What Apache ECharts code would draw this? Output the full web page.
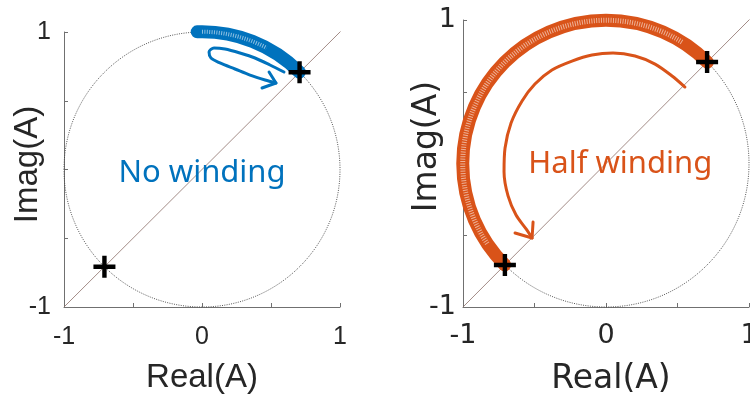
<!DOCTYPE html>
<html>
<head>
<meta charset="utf-8">
<script src="https://cdn.jsdelivr.net/npm/echarts@6/dist/echarts.min.js"></script>
<style>html,body{margin:0;padding:0;background:#fff;}#c{width:750px;height:395px;}</style>
</head>
<body>
<div id="c"></div>
<script>
// ---- data ----
const xTickLabels = [-1, 0, 1];
const yTickLabels = [-1, 1];
const diagonal = [[-1, -1], [1.02, 1.02]];
const unitCircle = [0, 0, 1];                 // centre x, centre y, radius
const crossPoints = [[0.707, 0.707], [-0.707, -0.707]];
const noWindingArc = [92, 45];                // start / end angle, degrees
const noWindingHatch = [90, 62];
const halfWindingArc = [45, 225];
const halfWindingHatch = [58, 214];
const noWindingArrow = [
  [0.594, 0.709], [0.493, 0.760], [0.384, 0.811], [0.275, 0.847], [0.167, 0.876],
  [0.087, 0.884], [0.051, 0.855], [0.065, 0.811], [0.130, 0.775], [0.239, 0.731],
  [0.348, 0.687], [0.457, 0.651], [0.536, 0.629]
];
const noWindingArrowHead = [[0.486, 0.709], [0.536, 0.629], [0.435, 0.593]];
const halfWindingArrow = [
  [0.552, 0.533], [0.462, 0.610], [0.343, 0.693], [0.203, 0.749], [0.049, 0.770],
  [-0.098, 0.756], [-0.238, 0.714], [-0.378, 0.652], [-0.497, 0.554], [-0.587, 0.436],
  [-0.664, 0.282], [-0.706, 0.108], [-0.713, -0.059], [-0.685, -0.226], [-0.629, -0.359],
  [-0.559, -0.456], [-0.517, -0.519]
];
const halfWindingArrowHead = [[-0.636, -0.484], [-0.517, -0.519], [-0.510, -0.408]];
const noWindingText = 'No winding';
const halfWindingText = 'Half winding';
const noWindingTextAt = [0, -0.03];
const halfWindingTextAt = [0.1, -0.005];

// ---- styles ----
const BLUE = '#0072BD';
const ORANGE = '#D95319';
const PLUS = 'path://M8,0h4v8h8v4h-8v8h-4v-8h-8v-4h8z';

function arcItem(color, width, dash, opacity) {
  return function (params, api) {
    const c = api.coord([api.value(0), api.value(1)]);
    const s = api.size([api.value(2), api.value(2)]);
    const r = (s[0] + s[1]) / 2;
    const a0 = -api.value(3) * Math.PI / 180;
    const a1 = -api.value(4) * Math.PI / 180;
    return {
      type: 'arc',
      shape: { cx: c[0], cy: c[1], r: r, startAngle: a0, endAngle: a1, clockwise: a1 > a0 },
      style: { stroke: color, fill: null, lineWidth: width, lineCap: dash ? 'butt' : 'round', lineDash: dash, opacity: opacity }
    };
  };
}
function circleItem(params, api) {
  const c = api.coord([api.value(0), api.value(1)]);
  const s = api.size([api.value(2), api.value(2)]);
  return {
    type: 'ellipse',
    shape: { cx: c[0], cy: c[1], rx: s[0], ry: s[1] },
    style: { stroke: '#444', fill: null, lineWidth: 0.9, lineDash: [1, 1.3] }
  };
}

function makeAxes(idx, font, labelSize, nameSize, xMargin, yMargin, xGap, yGap, xPad, yPad) {
  const axisLine = { show: true, onZero: false, lineStyle: { color: '#707070', width: 1 } };
  const axisTick = { show: true, inside: true, length: 4, lineStyle: { color: '#707070' } };
  const x = {
    type: 'value', gridIndex: idx, min: -1, max: 1, interval: 0.5,
    axisLine, axisTick, splitLine: { show: false },
    axisLabel: { margin: xMargin, fontFamily: font, fontSize: labelSize, color: '#262626',
      formatter: v => xTickLabels.includes(v) ? String(v) : '', showMaxLabel: true, showMinLabel: true },
    name: 'Real(A)', nameLocation: 'middle', nameGap: xGap, nameMoveOverlap: false,
    nameTextStyle: { fontFamily: font, fontSize: nameSize, color: '#262626', padding: xPad }
  };
  const y = {
    type: 'value', gridIndex: idx, min: -1, max: 1, interval: 0.5,
    axisLine, axisTick, splitLine: { show: false },
    axisLabel: { margin: yMargin, fontFamily: font, fontSize: labelSize, color: '#262626',
      formatter: v => yTickLabels.includes(v) ? String(v) : '' },
    name: 'Imag(A)', nameLocation: 'middle', nameGap: yGap, nameMoveOverlap: false,
    nameTextStyle: { fontFamily: font, fontSize: nameSize, color: '#262626', padding: yPad }
  };
  return [x, y];
}

const [x0, y0] = makeAxes(0, 'Liberation Sans', 25, 33, 18, 13, 54, 20, 0, [0, 0, 0, 10]);
const [x1, y1] = makeAxes(1, 'DejaVu Sans', 27, 33, 15, 7, 56, 19, [0, 0, 0, 10], [0, 0, 0, 34]);

function panelSeries(idx, color, arc, hatch, hatchW, arrow, head, text, textAt) {
  return [
    { type: 'line', xAxisIndex: idx, yAxisIndex: idx, data: diagonal, showSymbol: false, silent: true,
      lineStyle: { color: '#8c6e68', width: 0.8 }, z: 2 },
    { type: 'custom', xAxisIndex: idx, yAxisIndex: idx, data: [unitCircle], renderItem: circleItem, silent: true, z: 2 },
    { type: 'scatter', xAxisIndex: idx, yAxisIndex: idx, data: [textAt], symbolSize: 1,
      itemStyle: { color: 'rgba(0,0,0,0)', opacity: 1 }, silent: true, z: 3,
      label: { show: true, position: 'inside', formatter: text, fontFamily: 'Noto Sans', fontSize: 31, color: color, opacity: 1 } },
    { type: 'custom', xAxisIndex: idx, yAxisIndex: idx, data: [[0, 0, 1, arc[0], arc[1]]],
      renderItem: arcItem(color, 13, null, 1), silent: true, z: 4 },
    { type: 'custom', xAxisIndex: idx, yAxisIndex: idx, data: [[0, 0, 1, hatch[0], hatch[1]]],
      renderItem: arcItem('#ffffff', hatchW, [1, 1.4], 0.55), silent: true, z: 5 },
    { type: 'line', xAxisIndex: idx, yAxisIndex: idx, data: arrow, showSymbol: false, smooth: 0.3, silent: true,
      lineStyle: { color: color, width: 3, cap: 'round', join: 'round' }, z: 6 },
    { type: 'line', xAxisIndex: idx, yAxisIndex: idx, data: head, showSymbol: false, silent: true,
      lineStyle: { color: color, width: 3, cap: 'round', join: 'round' }, z: 6 },
    { type: 'scatter', xAxisIndex: idx, yAxisIndex: idx, data: crossPoints, symbol: PLUS, symbolSize: 22,
      itemStyle: { color: '#000', opacity: 1 }, silent: true, z: 7 }
  ];
}

const chart = echarts.init(document.getElementById('c'), null, { renderer: 'canvas' });
chart.setOption({
  animation: false,
  backgroundColor: '#fff',
  grid: [
    { left: 64, top: 32, width: 276, height: 275, containLabel: false, outerBoundsMode: 'none' },
    { left: 463, top: 20, width: 286, height: 287, containLabel: false, outerBoundsMode: 'none' }
  ],
  xAxis: [x0, x1],
  yAxis: [y0, y1],
  series: [].concat(
    panelSeries(0, BLUE, noWindingArc, noWindingHatch, 4, noWindingArrow, noWindingArrowHead, noWindingText, noWindingTextAt),
    panelSeries(1, ORANGE, halfWindingArc, halfWindingHatch, 5, halfWindingArrow, halfWindingArrowHead, halfWindingText, halfWindingTextAt)
  )
});
</script>
</body>
</html>
